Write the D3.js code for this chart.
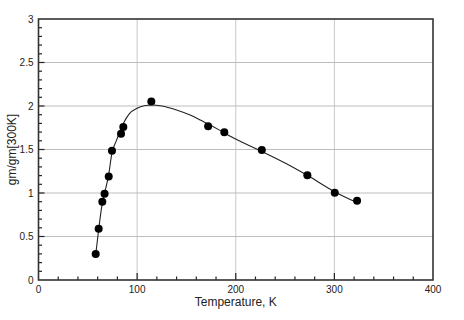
<!DOCTYPE html>
<html>
<head>
<meta charset="utf-8">
<script src="https://cdn.jsdelivr.net/npm/d3@7"></script>
<style>
  body { margin: 0; background: #fff; }
  text { font-family: "Liberation Sans", Arial, sans-serif; fill: #222; }
</style>
</head>
<body>
<svg id="chart"></svg>
<script>
// measured points
const tempK = [58, 61, 64.7, 67, 71.2, 74.5, 83.7, 86, 114.4, 172, 188.4, 226.4, 272.6, 300.4, 323];
const gmRatio = [0.3, 0.59, 0.9, 0.99, 1.19, 1.486, 1.68, 1.76, 2.053, 1.766, 1.697, 1.494, 1.203, 1.003, 0.911];

// fitted curve
const fitK = [58, 61, 64.5, 67, 71, 74.5, 79.3, 86, 92, 100, 107, 115, 125, 140, 155, 164, 175, 184, 200, 226, 250, 273, 300, 323];
const fitY = [0.29, 0.58, 0.87, 1.0, 1.2, 1.46, 1.61, 1.8, 1.91, 1.975, 2.003, 2.011, 2.0, 1.954, 1.89, 1.84, 1.775, 1.72, 1.62, 1.48, 1.345, 1.2, 1.015, 0.89];

const xTicks = [0, 100, 200, 300, 400];
const yTicks = [0, 0.5, 1, 1.5, 2, 2.5, 3];

const width = 464;
const height = 320;
const margin = {top: 19, right: 31, bottom: 40, left: 38.5};

const svg = d3.select('#chart')
    .attr('width', width)
    .attr('height', height);

const x = d3.scaleLinear().domain([0, 400]).range([margin.left, width - margin.right]);
const y = d3.scaleLinear().domain([0, 3]).range([height - margin.bottom, margin.top]);

// grid
svg.append('g')
  .selectAll('line')
  .data(xTicks.slice(1, -1))
  .enter().append('line')
    .attr('x1', d => x(d)).attr('x2', d => x(d))
    .attr('y1', y(0)).attr('y2', y(3))
    .attr('stroke', '#c8c8c8').attr('stroke-width', 1);

svg.append('g')
  .selectAll('line')
  .data(yTicks.slice(1, -1))
  .enter().append('line')
    .attr('x1', x(0)).attr('x2', x(400))
    .attr('y1', d => y(d)).attr('y2', d => y(d))
    .attr('stroke', '#bdbdbd').attr('stroke-width', 1);

// minor ticks (inward)
svg.append('g')
  .selectAll('line')
  .data(d3.range(20, 400, 20))
  .enter().append('line')
    .attr('x1', d => x(d)).attr('x2', d => x(d))
    .attr('y1', y(0)).attr('y2', d => y(0) - (d % 100 === 0 ? 7 : 3.5))
    .attr('stroke', '#222').attr('stroke-width', 1.2);

svg.append('g')
  .selectAll('line')
  .data(d3.range(1, 30).map(d => d / 10))
  .enter().append('line')
    .attr('x1', x(0)).attr('x2', d => x(0) + (Math.round(d * 10) % 5 === 0 ? 6 : 3.5))
    .attr('y1', d => y(d)).attr('y2', d => y(d))
    .attr('stroke', '#222').attr('stroke-width', 1.2);

// frame
svg.append('rect')
  .attr('x', x(0)).attr('y', y(3))
  .attr('width', x(400) - x(0)).attr('height', y(0) - y(3))
  .attr('fill', 'none').attr('stroke', '#333').attr('stroke-width', 1.6);

// tick labels
svg.append('g')
  .selectAll('text')
  .data(xTicks)
  .enter().append('text')
    .attr('x', d => x(d)).attr('y', y(0) + 13)
    .attr('text-anchor', 'middle')
    .attr('font-size', 10)
    .text(d => d);

svg.append('g')
  .selectAll('text')
  .data(yTicks)
  .enter().append('text')
    .attr('x', x(0) - 5).attr('y', d => y(d) + 3.5)
    .attr('text-anchor', 'end')
    .attr('font-size', 10)
    .text(d => d);

// axis titles
svg.append('text')
  .attr('x', (x(0) + x(400)) / 2).attr('y', 306)
  .attr('text-anchor', 'middle')
  .attr('font-size', 12)
  .text('Temperature, K');

svg.append('text')
  .attr('transform', 'translate(16,' + ((y(0) + y(3)) / 2) + ') rotate(-90)')
  .attr('text-anchor', 'middle')
  .attr('font-size', 12)
  .text('gm/gm[300K]');

// fit line
const line = d3.line()
  .x((d, i) => x(fitK[i]))
  .y(d => y(d))
  .curve(d3.curveMonotoneX);

svg.append('path')
  .attr('d', line(fitY))
  .attr('fill', 'none')
  .attr('stroke', '#222')
  .attr('stroke-width', 1.1);

// data points
svg.append('g')
  .selectAll('circle')
  .data(gmRatio)
  .enter().append('circle')
    .attr('cx', (d, i) => x(tempK[i]))
    .attr('cy', d => y(d))
    .attr('r', 4)
    .attr('fill', '#000');
</script>
</body>
</html>
